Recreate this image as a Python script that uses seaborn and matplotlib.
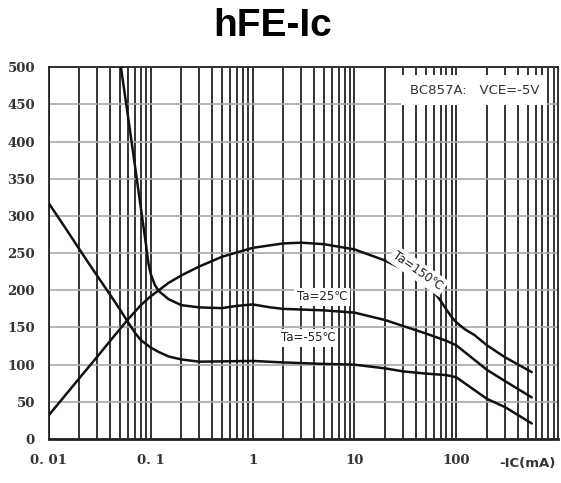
import matplotlib
matplotlib.use('Agg')
import matplotlib.pyplot as plt
import matplotlib.ticker as mticker
import seaborn as sns

# Data (BC857A, VCE=-5V)
ic_150 = [0.01, 0.02, 0.03, 0.04, 0.05, 0.06, 0.08, 0.1, 0.12, 0.15, 0.2, 0.3, 0.5, 1, 2, 3, 5, 10, 20, 30, 50, 60, 70, 80, 90, 100, 120, 150, 200, 300, 550]
hfe_150 = [32, 82, 111, 132, 148, 161, 180, 192, 200, 210, 220, 232, 245, 257, 263, 264, 262, 255, 240, 228, 208, 198, 186, 174, 164, 157, 148, 140, 126, 110, 90]

ic_25 = [0.051, 0.06, 0.07, 0.08, 0.09, 0.095, 0.1, 0.11, 0.12, 0.15, 0.2, 0.3, 0.5, 0.7, 1, 1.5, 2, 5, 10, 20, 30, 50, 80, 100, 200, 300, 550]
hfe_25 = [500, 433, 368, 311, 261, 236, 222, 207, 199, 188, 180, 177, 176, 179, 181, 177, 175, 173, 170, 160, 152, 142, 132, 126, 93, 78, 56]

ic_m55 = [0.01, 0.015, 0.02, 0.025, 0.03, 0.04, 0.05, 0.06, 0.07, 0.08, 0.1, 0.12, 0.15, 0.2, 0.3, 1, 2, 5, 10, 20, 30, 50, 80, 100, 200, 300, 550]
hfe_m55 = [317, 281, 255, 235, 219, 194, 174, 157, 143, 133, 123, 117, 111, 107, 104, 105, 103, 101, 100, 95, 91, 88, 86, 83, 54, 43, 21]

x_ticks = [0.01, 0.1, 1, 10, 100]
x_ticklabels = ['0. 01', '0. 1', '1', '10', '100']
y_ticks = list(range(0, 501, 50))

sns.set_style("white")
fig = plt.figure(figsize=(5.61, 4.83), dpi=100)
ax = fig.add_axes([0.087, 0.091, 0.908, 0.770])

ax.set_xscale('log')
ax.set_xlim(0.01, 1000)
ax.set_ylim(0, 500)

# grid: dark vertical lines at every 1..9 step, grey horizontal lines every 50
ax.xaxis.set_major_locator(mticker.FixedLocator(x_ticks))
ax.xaxis.set_minor_locator(mticker.LogLocator(base=10, subs=range(2, 10), numticks=20))
ax.xaxis.set_minor_formatter(mticker.NullFormatter())
ax.set_xticks(x_ticks)
ax.set_xticklabels(x_ticklabels)
ax.set_yticks(y_ticks)
ax.grid(True, which='both', axis='x', color='#222222', lw=1.3, zorder=0)
ax.grid(True, which='major', axis='y', color='#a8a8a8', lw=1.2, zorder=0)
ax.tick_params(axis='x', length=0, pad=11)
ax.tick_params(axis='y', length=0, pad=10)
for lab in ax.get_xticklabels() + ax.get_yticklabels():
    lab.set_fontfamily('DejaVu Serif')
    lab.set_fontweight('bold')
    lab.set_fontsize(9.5)
    lab.set_color('#333333')

for sp in ax.spines.values():
    sp.set_color('#222222')
    sp.set_linewidth(1.3)
ax.spines['bottom'].set_linewidth(2)

for xs, ys in [(ic_150, hfe_150), (ic_25, hfe_25), (ic_m55, hfe_m55)]:
    sns.lineplot(x=xs, y=ys, ax=ax, color='#111111', lw=1.8, zorder=3, estimator=None, sort=False)

box = dict(facecolor='white', edgecolor='none', pad=2)
ax.text(150, 469, 'BC857A:   VCE=-5V', ha='center', va='center', fontsize=9.5,
        color='#333333', bbox=dict(facecolor='white', edgecolor='none', pad=6), zorder=4)
ax.text(42, 226, 'Ta=150℃', ha='center', va='center', fontsize=8.5, rotation=-35,
        color='#222222', bbox=box, zorder=4)
ax.text(4.8, 191, 'Ta=25℃', ha='center', va='center', fontsize=8.5,
        color='#222222', bbox=box, zorder=4)
ax.text(3.5, 136, 'Ta=-55℃', ha='center', va='center', fontsize=8.5,
        color='#222222', bbox=box, zorder=4)

ax.set_xlabel('')
ax.set_ylabel('')
fig.text(0.94, 0.041, '-IC(mA)', ha='center', va='center', fontsize=9.5,
         fontweight='bold', color='#333333')
fig.text(0.486, 0.946, 'hFE-Ic', ha='center', va='center', fontsize=28,
         fontweight='bold', family='Liberation Sans', color='black')

fig.savefig('out.png', dpi=100)
